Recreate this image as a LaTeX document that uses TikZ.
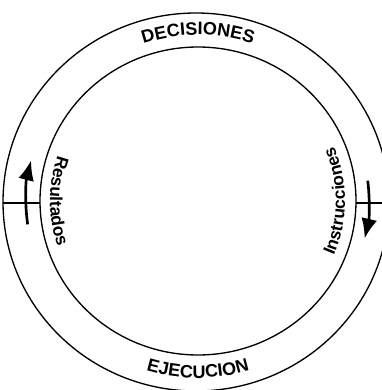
\documentclass[tikz,border=0pt]{standalone}
\usepackage{fontspec}
\setmainfont{Liberation Sans}
\usetikzlibrary{arrows.meta,decorations.text}
\newcommand\ringfont{\fontsize{13.5}{16}\selectfont\bfseries}
\newcommand\sidefont{\fontsize{13}{16}\selectfont\bfseries}

\begin{document}
\begin{tikzpicture}[x=0.75pt,y=0.75pt,>={Latex[length=15pt,width=12pt]},
  ring/.style={line width=1pt},
  cyclearrow/.style={->,line width=2pt},
  ringlabel/.style={decorate,decoration={text along path,text align=center,
    text={#1}}}]
\useasboundingbox (0,0) rectangle (382,390);
\clip (0,0) rectangle (382,390);
\coordinate (outer) at (196,188);
\coordinate (inner) at (198,189);
% the two rings
\draw[ring] (outer) ellipse [x radius=193,y radius=189];
\draw[ring] (inner) ellipse [x radius=158,y radius=154];
% ticks between the rings
\coordinate (tickLa) at (3,187);
\coordinate (tickLb) at (40,187);
\coordinate (tickRa) at (356,187);
\coordinate (tickRb) at (382,187);
\draw[ring] (tickLa) -- (tickLb);
\draw[ring] (tickRa) -- (tickRb);
% labels on the rings
\path[ringlabel={|\ringfont|DECISIONES}] ([shift={(135:170 and 166)}]inner)
  arc[start angle=135,end angle=45,x radius=170,y radius=166];
\path[ringlabel={|\ringfont|EJECUCION}] ([shift={(215:180 and 177)}]inner)
  arc[start angle=215,end angle=325,x radius=180,y radius=177];
\path[ringlabel={|\sidefont|Resultados}] ([shift={(150:148 and 144)}]inner)
  arc[start angle=150,end angle=210,x radius=148,y radius=144];
\path[ringlabel={|\sidefont|Instrucciones}] ([shift={(-30:147 and 143)}]inner)
  arc[start angle=-30,end angle=30,x radius=147,y radius=143];
% arrows
\draw[cyclearrow] ([shift={(188:172 and 168)}]inner)
  arc[start angle=188,end angle=166,x radius=172,y radius=168];
\draw[cyclearrow] ([shift={(7:171 and 167)}]inner)
  arc[start angle=7,end angle=-13,x radius=171,y radius=167];
\end{tikzpicture}
\end{document}
